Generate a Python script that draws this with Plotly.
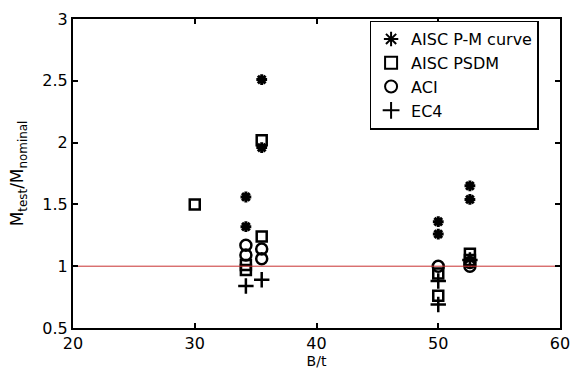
import plotly.graph_objects as go

# Data
pm_x = [34.2, 34.2, 35.5, 35.5, 50.0, 50.0, 52.6, 52.6]
pm_y = [1.56, 1.32, 2.51, 1.96, 1.36, 1.26, 1.65, 1.54]

psdm_x = [30.0, 34.2, 34.2, 35.5, 35.5, 50.0, 50.0, 52.6, 52.6]
psdm_y = [1.50, 1.01, 0.97, 2.02, 1.24, 0.94, 0.76, 1.10, 1.05]

aci_x = [34.2, 34.2, 35.5, 35.5, 50.0, 52.6, 52.6]
aci_y = [1.17, 1.09, 1.14, 1.06, 1.00, 1.03, 1.00]

ec4_x = [34.2, 35.5, 50.0, 50.0, 52.6]
ec4_y = [0.84, 0.89, 0.88, 0.69, 1.05]

ref_y = 1.0
x_ticks = [20, 30, 40, 50, 60]
y_ticks = [0.5, 1, 1.5, 2, 2.5, 3]

FONT = "DejaVu Sans, Liberation Sans, Arial"

fig = go.Figure()
fig.add_trace(go.Scatter(x=pm_x, y=pm_y, mode="markers", name="AISC P-M curve",
                         marker=dict(symbol="asterisk-open", size=9, color="black",
                                     line=dict(width=3, color="black"))))
fig.add_trace(go.Scatter(x=psdm_x, y=psdm_y, mode="markers", name="AISC PSDM",
                         marker=dict(symbol="square-open", size=10, color="black",
                                     line=dict(width=2.5, color="black"))))
fig.add_trace(go.Scatter(x=aci_x, y=aci_y, mode="markers", name="ACI",
                         marker=dict(symbol="circle-open", size=11, color="black",
                                     line=dict(width=2.5, color="black"))))
fig.add_trace(go.Scatter(x=ec4_x, y=ec4_y, mode="markers", name="EC4",
                         marker=dict(symbol="cross-thin-open", size=11, color="black",
                                     line=dict(width=2.5, color="black"))))
fig.add_trace(go.Scatter(x=[x_ticks[0], x_ticks[-1]], y=[ref_y, ref_y], mode="lines",
                         line=dict(color="#c83030", width=1), showlegend=False))

axis_common = dict(showline=True, linecolor="black", linewidth=2, mirror="allticks",
                   ticks="inside", ticklen=5, tickwidth=2, tickcolor="black",
                   showgrid=False, zeroline=False, automargin=False,
                   tickfont=dict(family=FONT, size=16, color="black"))

fig.update_layout(
    width=574, height=369,
    margin=dict(l=73, r=14, t=19, b=41),
    plot_bgcolor="white", paper_bgcolor="white",
    font=dict(family=FONT, color="black"),
    xaxis=dict(range=[20, 60], tickvals=x_ticks, ticktext=[str(v) for v in x_ticks],
               title=dict(text="B/t", font=dict(size=14), standoff=6), **axis_common),
    yaxis=dict(range=[0.5, 3], tickvals=y_ticks, ticktext=["0.5", "1", "1.5", "2", "2.5", "3"],
               title=dict(text="M<sub>test</sub>/M<sub>nominal</sub>", font=dict(size=17), standoff=14),
               **axis_common),
    legend=dict(x=0.609, y=0.995, xanchor="left", yanchor="top",
                bordercolor="black", borderwidth=1.5, bgcolor="white",
                font=dict(size=16, color="black"), tracegroupgap=0,
                itemsizing="constant", itemwidth=30),
)

fig.write_html("out.html")
